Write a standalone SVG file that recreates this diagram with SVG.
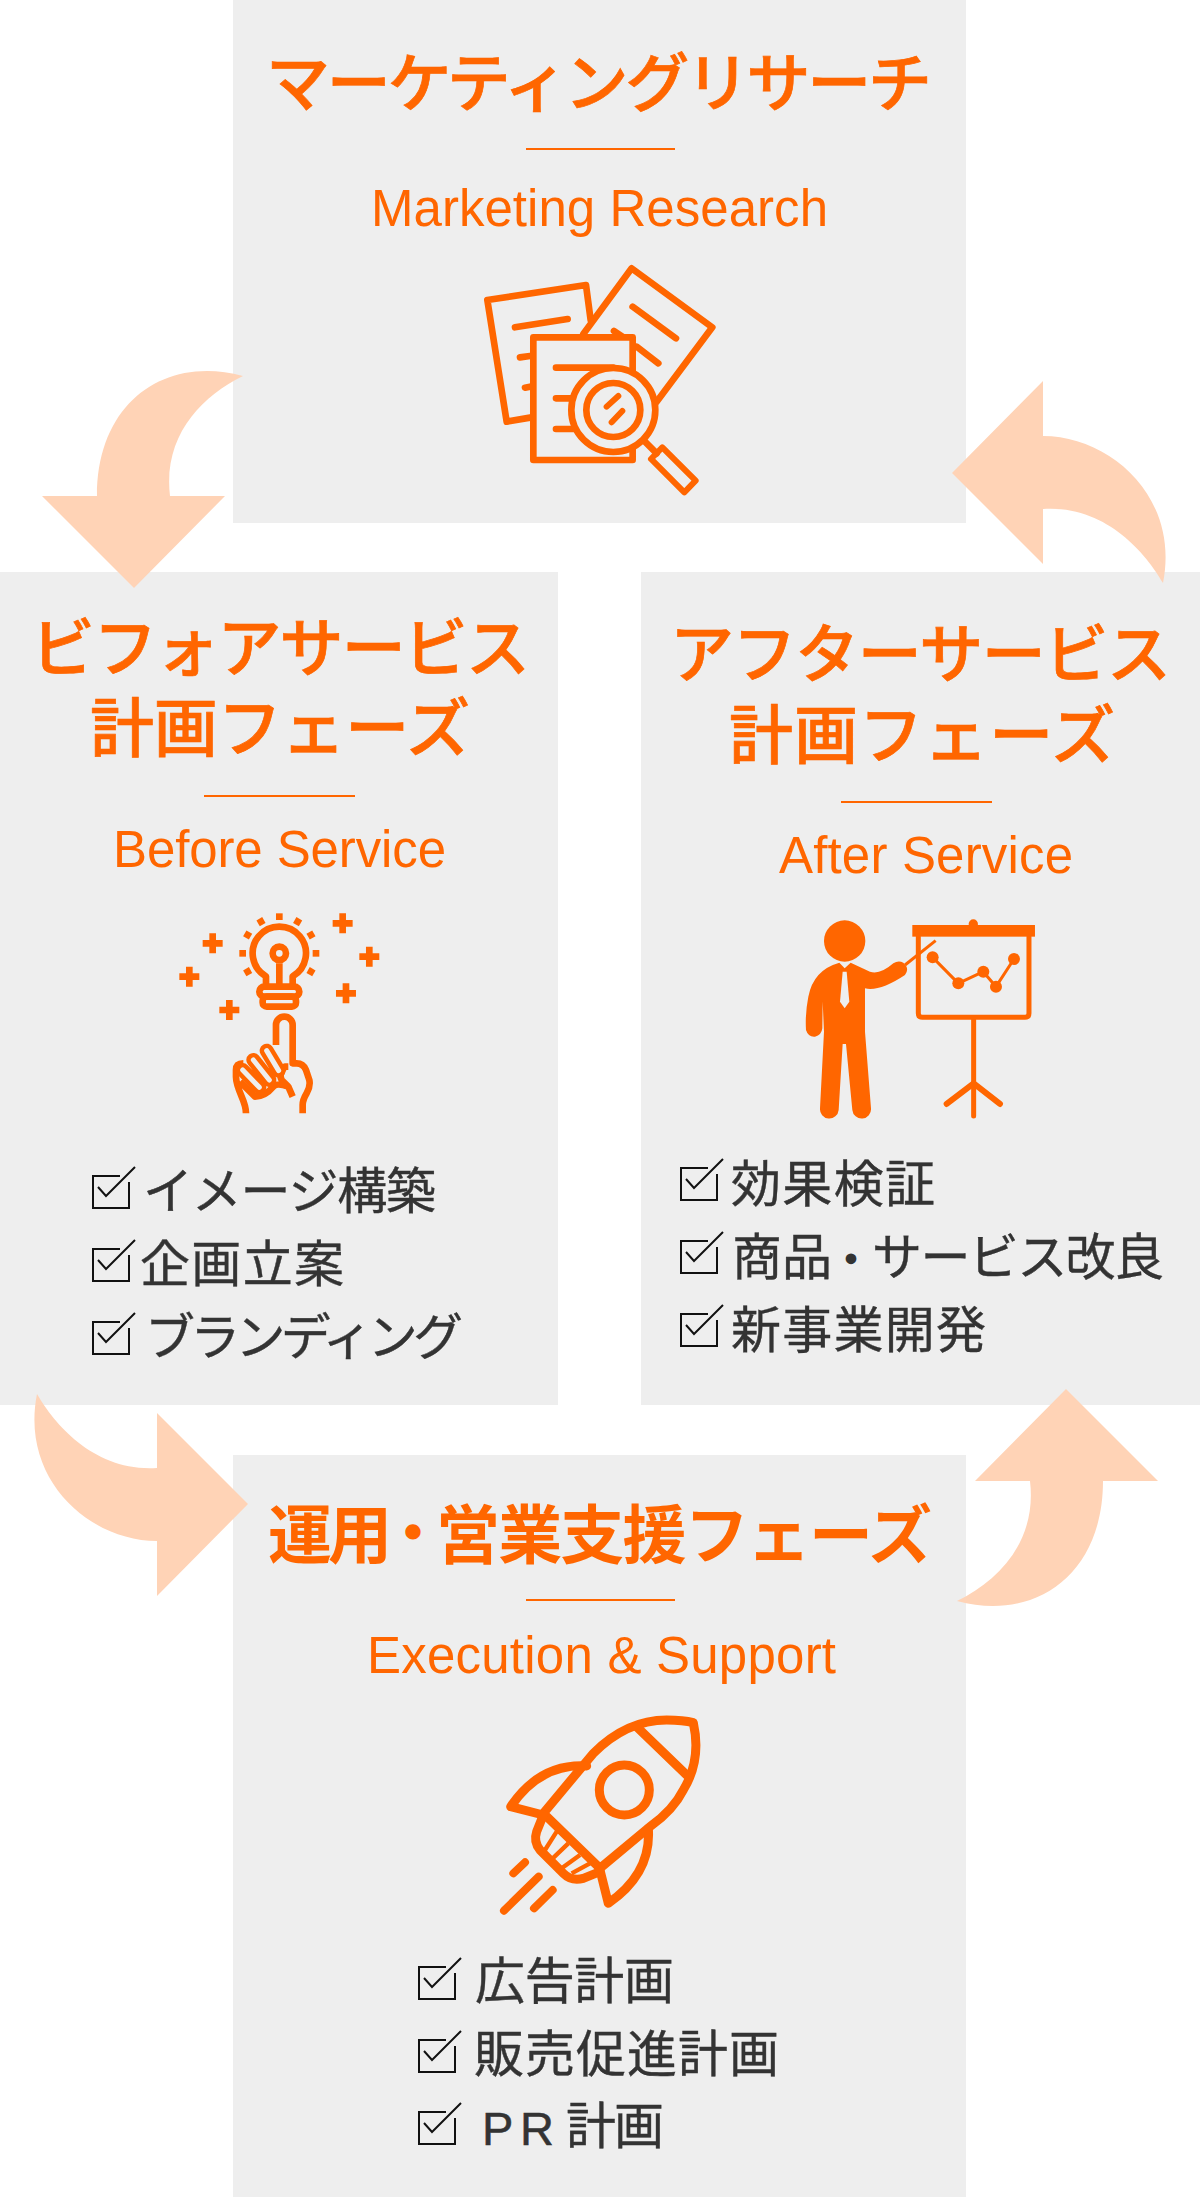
<svg xmlns="http://www.w3.org/2000/svg" xmlns:xlink="http://www.w3.org/1999/xlink" width="1200" height="2197" viewBox="0 0 1200 2197">
<style>
.box{fill:#eeeeee}
.ti{font-family:"Noto Sans CJK JP","Liberation Sans",sans-serif;font-weight:700;font-size:64px;fill:#ff6600}
.ts{font-weight:500;stroke:#ff6600;stroke-width:.7px}
.en{font-family:"Liberation Sans",Arial,sans-serif;font-size:51px;fill:#ff6600}
.li{font-family:"Noto Sans CJK JP","Liberation Sans",sans-serif;font-weight:400;font-size:50px;fill:#333333;stroke:#333333;stroke-width:.4px}
.pr{font-family:"Liberation Sans",sans-serif;font-size:47px;fill:#333333;stroke:#333333;stroke-width:.5px}
.rule{stroke:#ff6600;stroke-width:2;fill:none}
.arrow{fill:#ffd3b6}
.ic{fill:none;stroke:#ff6600;stroke-width:20;stroke-linecap:round;stroke-linejoin:round}
.sq{stroke-linecap:butt}
.f{fill:#ff6600;stroke:none}
.chk{fill:none;stroke:#111111;stroke-width:2}
</style>
<defs>
<g id="cb"><path class="chk" d="M27,3H0V35H36V9"/><path class="chk" d="M5,14L13,23L42,-6"/></g>
<path id="plus" d="M-30,0H30M0,-30V30" class="ic sq"/>
<rect id="ray" x="-10" y="-10" width="20" height="20" class="f"/>
<path id="arrA" class="arrow" d="M37,1394C55,1425 95,1472 157,1468V1413L248,1504L157,1596V1541C90,1541 20,1480 37,1394Z"/>
<path id="arrB" class="arrow" d="M957,1601C1000,1580 1037,1540 1030,1481H975L1066,1389L1158,1481H1103C1103,1575 1035,1622 957,1601Z"/>
</defs>
<rect width="1200" height="2197" fill="#ffffff"/>

<g id="node-research">
<rect class="box" x="233" y="0" width="733" height="523"/>
<text class="ti ts" x="266" y="106" textLength="666">マーケティングリサーチ</text>
<path class="rule" d="M526,149H675"/>
<text class="en" x="371" y="226" textLength="457">Marketing Research</text>
<g transform="translate(460,250) scale(.3333)">
<path class="ic" d="M370,252L515,55L757,232L590,455"/>
<path class="ic" d="M392,210L378,105L82,150L140,515L210,503"/>
<path class="ic" d="M165,232L323,207M180,322L210,318M195,413L210,410M518,170L648,265M462,243L490,262M530,290L595,340"/>
<rect class="ic" x="220" y="262" width="298" height="368" style="fill:#eeeeee"/>
<path class="ic" d="M288,353H460M288,445H335M288,537H340M555,575L590,610"/>
<circle class="ic" cx="460" cy="480" r="126" style="fill:#eeeeee"/>
<circle class="ic" cx="460" cy="480" r="81"/>
<path class="ic" style="stroke-width:18" d="M440,470L475,438M455,517L487,483"/>
<path class="ic" style="stroke-width:18" d="M607,592L707,692L673,727L573,627Z"/>
</g>
</g>

<g id="node-before">
<rect class="box" x="0" y="572" width="558" height="833"/>
<text class="ti ts"><tspan x="31" y="671" textLength="499">ビフォアサービス</tspan><tspan x="90" y="751" textLength="380">計画フェーズ</tspan></text>
<path class="rule" d="M204,796H355"/>
<text class="en" x="113" y="867" textLength="333">Before Service</text>
<g transform="translate(160,900) scale(.3333)">
<use href="#plus" x="548" y="70"/><use href="#plus" x="158" y="130"/><use href="#plus" x="88" y="230"/><use href="#plus" x="208" y="330"/><use href="#plus" x="628" y="170"/><use href="#plus" x="558" y="280"/>
<use href="#ray" x="358" y="50"/><use href="#ray" x="248" y="160"/><use href="#ray" x="468" y="160"/>
<use href="#ray" transform="translate(303,65) rotate(-30)"/><use href="#ray" transform="translate(413,65) rotate(30)"/><use href="#ray" transform="translate(263,105) rotate(-60)"/><use href="#ray" transform="translate(453,105) rotate(60)"/><use href="#ray" transform="translate(263,215) rotate(60)"/><use href="#ray" transform="translate(453,215) rotate(-60)"/>
<path class="ic sq" d="M318,255V229A80,80 0 1 1 398,229V255M358,190V255"/>
<circle class="ic" cx="358" cy="160" r="20"/>
<rect class="ic" x="298" y="260" width="120" height="30" rx="15"/>
<rect class="ic" x="308" y="290" width="100" height="30" rx="12"/>
<path class="ic sq" d="M348,435V375A25,25 0 0 1 398,375V490H410Q430,490 438,510L448,540Q452,560 440,580Q428,600 428,615V640M258,640Q258,620 245,590Q228,550 228,530V510Q228,490 250,490M240,545L285,590Q315,590 340,560Q350,548 385,560L398,590M385,500H375Q355,520 365,540L385,560"/>
<path d="M248,510L298,562M280,480L328,540M320,452L356,512" fill="none" stroke="#ff6600" stroke-width="42" stroke-linecap="round"/>
<path d="M248,510L298,562M280,480L328,540M320,452L356,512" fill="none" stroke="#eeeeee" stroke-width="15" stroke-linecap="round"/>
</g>
<use href="#cb" x="93" y="1173"/><use href="#cb" x="93" y="1246"/><use href="#cb" x="93" y="1319"/>
<text class="li" x="143" y="1209" textLength="293">イメージ構築</text>
<text class="li" x="140" y="1282" textLength="204">企画立案</text>
<text class="li" x="145" y="1355" textLength="318">ブランディング</text>
</g>

<g id="node-after">
<rect class="box" x="641" y="572" width="559" height="833"/>
<text class="ti ts"><tspan x="670" y="677" textLength="501">アフターサービス</tspan><tspan x="729" y="758" textLength="386">計画フェーズ</tspan></text>
<path class="rule" d="M841,802H992"/>
<text class="en" x="779" y="873" textLength="294">After Service</text>
<g transform="translate(780,900) scale(.3333)">
<circle class="f" cx="194" cy="123" r="62"/>
<path class="f" d="M178,188Q100,210 85,290Q75,340 78,390Q85,412 105,410Q125,405 127,385L128,305L132,395L120,625A28,28 0 0 0 176,630L188,432H198L217,630A28,28 0 0 0 273,625L255,395V265Q300,275 375,225Q390,205 370,188Q355,180 340,190Q300,225 270,215L212,188L194,205Z"/>
<path fill="#eeeeee" d="M188,215H200L208,305L194,325L180,305Z"/>
<path class="ic" style="stroke-width:9;stroke-linecap:butt" d="M375,195L467,122"/>
<rect class="f" x="397" y="75" width="368" height="35"/>
<circle class="f" cx="580" cy="72" r="14"/>
<path class="ic" style="stroke-width:15" d="M415,110V340Q415,352 427,352H735Q747,352 747,340V110M581,352V648"/>
<path class="ic" style="stroke-width:18" d="M500,612L581,550L660,612"/>
<path class="ic" style="stroke-width:9" d="M458,172L535,250L610,215L648,260L702,177"/>
<circle class="f" cx="458" cy="172" r="18"/><circle class="f" cx="535" cy="250" r="18"/><circle class="f" cx="610" cy="215" r="18"/><circle class="f" cx="648" cy="260" r="18"/><circle class="f" cx="702" cy="177" r="18"/>
</g>
<use href="#cb" x="681" y="1165"/><use href="#cb" x="681" y="1238"/><use href="#cb" x="681" y="1311"/>
<text class="li" x="731" y="1202" textLength="204">効果検証</text>
<text class="li" x="732" y="1275" textLength="100">商品</text>
<text class="li" x="833" y="1273" style="font-size:36px;stroke-width:3px">・</text>
<text class="li" x="872" y="1275" textLength="292">サービス改良</text>
<text class="li" x="731" y="1348" textLength="255">新事業開発</text>
</g>

<g id="node-operation">
<rect class="box" x="233" y="1455" width="733" height="742"/>
<text class="ti" x="268" y="1558" textLength="124">運用</text>
<text class="ti" x="393" y="1547" style="font-size:40px;stroke:#ff6600;stroke-width:5px">・</text>
<text class="ti" x="436" y="1558" textLength="496">営業支援フェーズ</text>
<path class="rule" d="M526,1600H675"/>
<text class="en" x="367" y="1673" textLength="469">Execution &amp; Support</text>
<g transform="translate(480,1700) scale(.3333)">
<g class="ic" style="stroke-width:27">
<path d="M190,340L340,160Q440,60 560,60Q610,60 640,68Q665,180 610,270Q580,330 510,380L360,505Z"/>
<path d="M470,80L620,225"/>
<circle cx="433" cy="270" r="75"/>
<path d="M320,198Q180,190 92,320L190,345M505,385Q515,520 385,610L360,510"/>
<path d="M190,345L170,395Q160,425 180,450L250,520Q275,545 310,535L360,515"/>
</g>
<path class="ic" style="stroke-width:13;stroke-linecap:butt" d="M230,395L195,450M265,430L215,478M300,465L245,505M330,490L275,520"/>
<path class="ic" style="stroke-width:24" d="M100,520L135,487M72,632L176,530M162,625L218,570"/>
</g>
<use href="#cb" x="419" y="1964"/><use href="#cb" x="419" y="2037"/><use href="#cb" x="419" y="2109"/>
<text class="li" x="475" y="1999" textLength="199">広告計画</text>
<text class="li" x="474" y="2072" textLength="305">販売促進計画</text>
<text class="pr" x="482" y="2145" textLength="72">PR</text>
<text class="li" x="566" y="2144" textLength="98">計画</text>
</g>

<g id="connectors">
<use href="#arrB" transform="rotate(180 600 988.5)"/>
<use href="#arrA" transform="rotate(180 600 988.5)"/>
<use href="#arrA"/>
<use href="#arrB"/>
</g>
</svg>
